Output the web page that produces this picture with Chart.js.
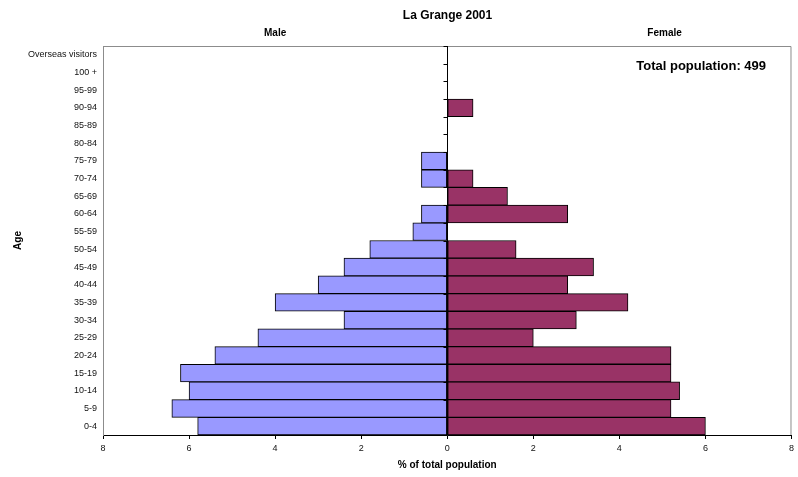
<!DOCTYPE html>
<html>
<head>
<meta charset="utf-8">
<script src="https://cdn.jsdelivr.net/npm/chart.js@4"></script>
<style>
  html, body { margin: 0; padding: 0; background: #fff; }
  #wrap { width: 798px; height: 477px; }
</style>
</head>
<body>
<div id="wrap"><canvas id="pyramid" width="798" height="477"></canvas></div>
<script>
// age groups from youngest (bottom) to top
const ageGroups = ['0-4', '5-9', '10-14', '15-19', '20-24', '25-29', '30-34', '35-39', '40-44', '45-49',
  '50-54', '55-59', '60-64', '65-69', '70-74', '75-79', '80-84', '85-89', '90-94', '95-99', '100 +', 'Overseas visitors'];
// % of total population
const maleValues = [5.8, 6.4, 6.0, 6.2, 5.4, 4.4, 2.4, 4.0, 3.0, 2.4, 1.8, 0.8, 0.6, 0, 0.6, 0.6, 0, 0, 0, 0, 0, 0];
const femaleValues = [6.0, 5.2, 5.4, 5.2, 5.2, 2.0, 3.0, 4.2, 2.8, 3.4, 1.6, 0, 2.8, 1.4, 0.6, 0, 0, 0, 0.6, 0, 0, 0];
const xTicks = [-8, -6, -4, -2, 0, 2, 4, 6, 8];

const FONT = 'Liberation Sans, Arial, Helvetica, sans-serif';

// text and centre axis drawn on top of the chart
const extras = {
  id: 'extras',
  beforeDraw(chart) {
    const { ctx } = chart;
    ctx.save();
    ctx.fillStyle = '#fff';
    ctx.fillRect(0, 0, chart.width, chart.height);
    ctx.restore();
  },
  afterDatasetsDraw(chart) {
    const { ctx, chartArea: a, scales } = chart;
    const x0 = Math.round(scales.x.getPixelForValue(0)) + 0.5;
    ctx.save();
    // plot frame
    ctx.strokeStyle = '#8c8c8c';
    ctx.lineWidth = 1;
    ctx.beginPath();
    ctx.moveTo(a.left + 0.5, a.bottom);
    ctx.lineTo(a.left + 0.5, a.top + 0.5);
    ctx.lineTo(a.right - 0.5, a.top + 0.5);
    ctx.lineTo(a.right - 0.5, a.bottom);
    ctx.stroke();
    // centre axis with ticks between categories
    ctx.strokeStyle = '#000';
    ctx.beginPath();
    ctx.moveTo(x0, a.top);
    ctx.lineTo(x0, a.bottom);
    for (let i = 0; i <= ageGroups.length; i++) {
      const y = Math.round(scales.y.getPixelForValue(i - 0.5)) + 0.5;
      ctx.moveTo(x0 - 4, y);
      ctx.lineTo(x0, y);
    }
    ctx.stroke();
    // labels
    ctx.fillStyle = '#000';
    ctx.textAlign = 'center';
    ctx.textBaseline = 'middle';
    ctx.font = 'bold 12px ' + FONT;
    ctx.fillText('La Grange 2001', x0, 16);
    ctx.font = 'bold 10px ' + FONT;
    ctx.fillText('Male', scales.x.getPixelForValue(-4), 33);
    ctx.fillText('Female', scales.x.getPixelForValue(5.05), 33);
    ctx.font = 'bold 13px ' + FONT;
    ctx.fillText('Total population: 499', scales.x.getPixelForValue(5.9), 66);
    ctx.save();
    ctx.translate(18, (a.top + a.bottom) / 2);
    ctx.rotate(-Math.PI / 2);
    ctx.font = 'bold 10px ' + FONT;
    ctx.fillText('Age', 0, 0);
    ctx.restore();
    ctx.restore();
  }
};

new Chart(document.getElementById('pyramid'), {
  type: 'bar',
  data: {
    labels: ageGroups,
    datasets: [{
      label: 'Male',
      data: maleValues.map(v => -v),
      backgroundColor: '#9999ff',
      borderColor: '#000',
      borderWidth: 1,
      borderSkipped: false,
      barPercentage: 1,
      categoryPercentage: 1
    }, {
      label: 'Female',
      data: femaleValues,
      backgroundColor: '#993366',
      borderColor: '#000',
      borderWidth: 1,
      borderSkipped: false,
      barPercentage: 1,
      categoryPercentage: 1
    }]
  },
  options: {
    indexAxis: 'y',
    responsive: false,
    animation: false,
    layout: { padding: { top: 46, right: 6, left: 0, bottom: 0 } },
    plugins: {
      legend: { display: false },
      tooltip: { enabled: false }
    },
    scales: {
      x: {
        stacked: true,
        min: -8,
        max: 8,
        afterBuildTicks(scale) { scale.ticks = xTicks.map(v => ({ value: v })); },
        afterFit(scale) { scale.height = 42; },
        ticks: {
          callback: v => Math.abs(v),
          font: { family: FONT, size: 9 },
          color: '#111',
          padding: 4,
          maxRotation: 0
        },
        grid: { drawOnChartArea: false, drawTicks: true, tickLength: 4, color: '#000' },
        border: { color: '#000' },
        title: {
          display: true,
          text: '% of total population',
          font: { family: FONT, size: 10, weight: 'bold' },
          color: '#000',
          padding: { top: 0, bottom: 6 }
        }
      },
      y: {
        stacked: true,
        reverse: true,
        afterFit(scale) { scale.width = 103; },
        ticks: {
          font: { family: FONT, size: 9 },
          color: '#111',
          padding: 6,
          autoSkip: false
        },
        grid: { display: false, drawTicks: false },
        border: { color: '#8c8c8c' }
      }
    }
  },
  plugins: [extras]
});
</script>
</body>
</html>
